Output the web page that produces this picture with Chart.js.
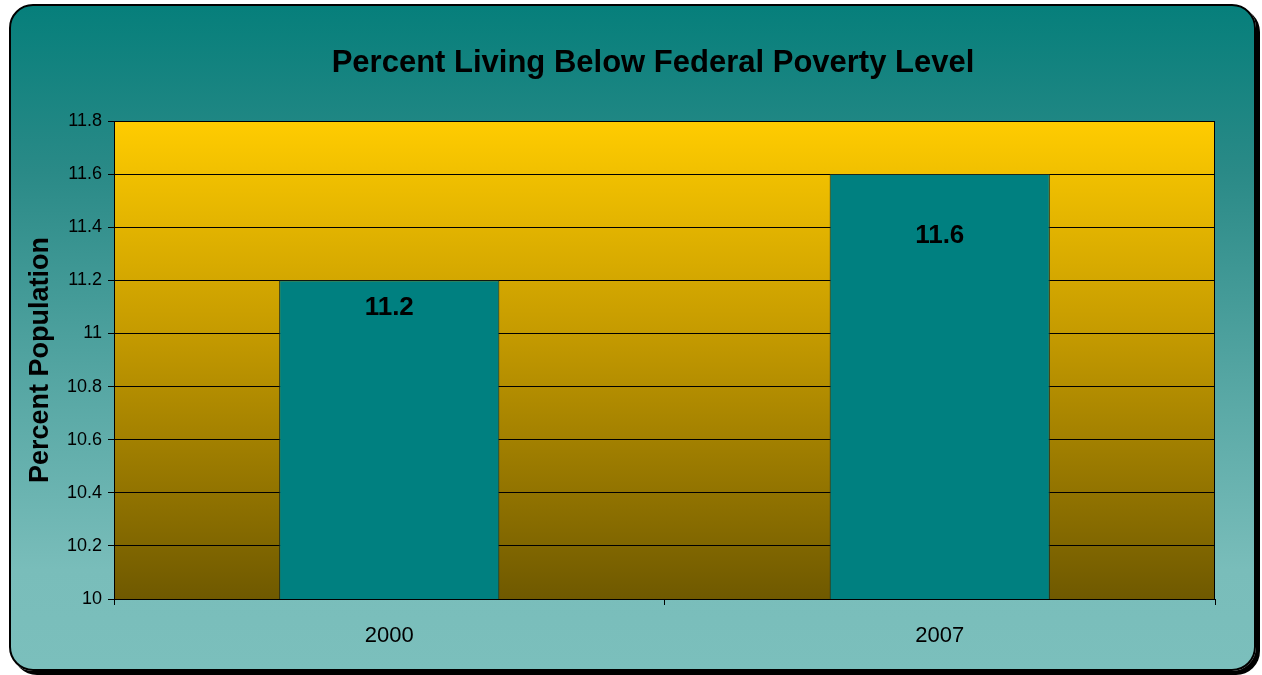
<!DOCTYPE html>
<html>
<head>
<meta charset="utf-8">
<script src="https://cdn.jsdelivr.net/npm/chart.js@4/dist/chart.umd.min.js"></script>
<style>
  html, body { margin: 0; padding: 0; width: 1262px; height: 675px; background: #ffffff; overflow: hidden; }
  #frame {
    position: absolute; left: 9px; top: 4px; width: 1243px; height: 663px;
    border: 2px solid #000; border-radius: 24px;
    box-shadow: 4px 4px 0 #000;
    background: linear-gradient(to bottom, #067f7b 0%, #2a8a87 25%, #5aa9a6 60%, #79bdba 85%, #7bbfbc 100%);
  }
  #c { position: absolute; left: 0; top: 0; }
</style>
</head>
<body>
<div id="frame"></div>
<canvas id="c" width="1262" height="675"></canvas>
<script>
// Poverty rate by year
const years = ['2000', '2007'];
const percentBelowPoverty = [11.2, 11.6];
const yMin = 10, yMax = 11.8, yStep = 0.2;
const chartTitle = 'Percent Living Below Federal Poverty Level';

const FONT = '"Liberation Sans", Arial, sans-serif';

// Gold gradient behind the bars, a black frame around the plot, and the heading
const plotBackground = {
  id: 'plotBackground',
  beforeDraw(chart) {
    const { ctx, chartArea: a } = chart;
    if (!a) return;
    const g = ctx.createLinearGradient(0, a.top, 0, a.bottom);
    g.addColorStop(0, '#ffcc00');
    g.addColorStop(0.45, '#c49a00');
    g.addColorStop(1, '#6f5900');
    ctx.save();
    ctx.fillStyle = g;
    ctx.fillRect(a.left, a.top, a.right - a.left, a.bottom - a.top);
    ctx.font = 'bold 31px ' + FONT;
    ctx.fillStyle = '#000';
    ctx.textAlign = 'center';
    ctx.textBaseline = 'middle';
    ctx.fillText(chartTitle, 653, 63);
    ctx.restore();
  },
  afterDraw(chart) {
    const { ctx, chartArea: a } = chart;
    ctx.save();
    ctx.strokeStyle = '#000';
    ctx.lineWidth = 1;
    ctx.strokeRect(Math.round(a.left) + 0.5, Math.round(a.top) + 0.5,
                   Math.round(a.right - a.left) - 1, Math.round(a.bottom - a.top));
    ctx.restore();
  }
};

// Value written inside the top of each bar
const barValues = {
  id: 'barValues',
  afterDatasetsDraw(chart, args, opts) {
    const { ctx } = chart;
    const meta = chart.getDatasetMeta(0);
    ctx.save();
    ctx.font = 'bold 26px ' + FONT;
    ctx.fillStyle = '#000';
    ctx.textAlign = 'center';
    ctx.textBaseline = 'middle';
    meta.data.forEach((bar, i) => {
      const drop = (opts.drops && opts.drops[i]) || 27;
      ctx.fillText(String(chart.data.datasets[0].data[i]), bar.x, bar.y + drop);
    });
    ctx.restore();
  }
};

new Chart(document.getElementById('c'), {
  type: 'bar',
  data: {
    labels: years,
    datasets: [{
      data: percentBelowPoverty,
      backgroundColor: '#008080',
      borderColor: '#1a2a20',
      borderWidth: 1,
      categoryPercentage: 1,
      barPercentage: 0.4
    }]
  },
  options: {
    responsive: false,
    devicePixelRatio: 1,
    animation: false,
    layout: { padding: { left: 20, right: 47, top: 121, bottom: 0 } },
    plugins: {
      legend: { display: false },
      tooltip: { enabled: false },
      title: { display: false },
      barValues: { drops: [27, 62] }
    },
    scales: {
      x: {
        offset: true,
        grid: { drawOnChartArea: false, offset: true, tickLength: 6, color: '#000', tickColor: '#000' },
        border: { color: '#000' },
        ticks: { color: '#000', font: { family: FONT, size: 22 }, padding: 18 },
        afterFit(scale) { scale.height = 76; }
      },
      y: {
        min: yMin, max: yMax,
        grid: { color: '#000', lineWidth: 1, tickLength: 6, tickColor: '#000' },
        border: { color: '#000' },
        ticks: {
          stepSize: yStep, color: '#000', padding: 6,
          font: { family: FONT, size: 18 },
          callback: v => String(Math.round(v * 10) / 10)
        },
        title: {
          display: true, text: 'Percent Population', color: '#000',
          font: { family: FONT, size: 27, weight: 'bold' },
          padding: { top: 4, bottom: 0 }
        },
        afterFit(scale) { scale.width = 94; }
      }
    }
  },
  plugins: [plotBackground, barValues]
});
</script>
</body>
</html>
